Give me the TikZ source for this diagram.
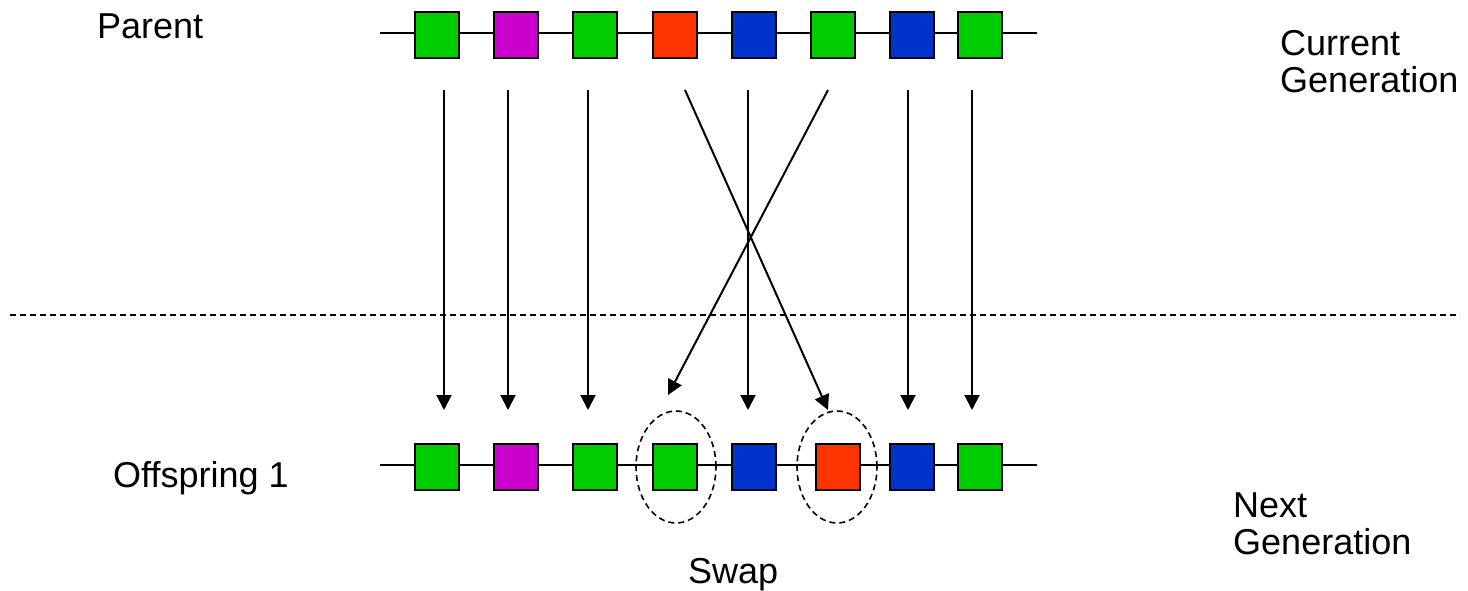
\documentclass[tikz,border=0pt]{standalone}
\usepackage{fontspec}
\setmainfont{Liberation Sans}
\usetikzlibrary{arrows.meta,shapes.geometric}
\definecolor{ggreen}{HTML}{00CC00}
\definecolor{gmag}{HTML}{CC00CC}
\definecolor{gred}{HTML}{FF3300}
\definecolor{gblue}{HTML}{0033CC}
\begin{document}
\begin{tikzpicture}[x=1pt,y=-1pt,
  gene/.style={draw=black, line width=2pt, minimum width=44pt, minimum height=46pt, inner sep=0pt},
  chrom/.style={line width=2pt},
  link/.style={line width=2pt, -{Triangle[length=15pt,width=15pt]}},
  ring/.style={draw=black, ellipse, dash pattern=on 6pt off 4pt, line width=1.6pt, minimum width=80pt, minimum height=112pt, inner sep=0pt},
  sep/.style={dash pattern=on 6pt off 4pt, line width=1.6pt},
  lbl/.style={font=\fontsize{36}{37}\selectfont, inner sep=0pt}]
\useasboundingbox (0,0) rectangle (1468,591);

% chromosome lines
\coordinate (tl) at (380,33); \coordinate (tr) at (1037,33);
\coordinate (bl) at (380,465); \coordinate (br) at (1037,465);
\draw[chrom] (tl) -- (tr);
\draw[chrom] (bl) -- (br);

% parent genes
\node[gene, fill=ggreen] (t1) at (437,35) {};
\node[gene, fill=gmag]   (t2) at (516,35) {};
\node[gene, fill=ggreen] (t3) at (595,35) {};
\node[gene, fill=gred]   (t4) at (675,35) {};
\node[gene, fill=gblue]  (t5) at (754,35) {};
\node[gene, fill=ggreen] (t6) at (833,35) {};
\node[gene, fill=gblue]  (t7) at (912,35) {};
\node[gene, fill=ggreen] (t8) at (980,35) {};

% offspring genes
\node[gene, fill=ggreen] (b1) at (437,467) {};
\node[gene, fill=gmag]   (b2) at (516,467) {};
\node[gene, fill=ggreen] (b3) at (595,467) {};
\node[gene, fill=ggreen] (b4) at (675,467) {};
\node[gene, fill=gblue]  (b5) at (754,467) {};
\node[gene, fill=gred]   (b6) at (838,467) {};
\node[gene, fill=gblue]  (b7) at (912,467) {};
\node[gene, fill=ggreen] (b8) at (980,467) {};

% swap rings
\node[ring] (e1) at (676,467) {};
\node[ring] (e2) at (837,467) {};

% separator
\coordinate (sL) at (10,315); \coordinate (sR) at (1460,315);
\draw[sep] (sL) -- (sR);

% arrow endpoints
\coordinate (s1) at (444,90);  \coordinate (d1) at (444,410);
\coordinate (s2) at (508,90);  \coordinate (d2) at (508,410);
\coordinate (s3) at (588,90);  \coordinate (d3) at (588,410);
\coordinate (s4) at (685,90);  \coordinate (d4) at (828,410);
\coordinate (s5) at (748,90);  \coordinate (d5) at (748,410);
\coordinate (s6) at (828,90);  \coordinate (d6) at (668,395);
\coordinate (s7) at (908,90);  \coordinate (d7) at (908,410);
\coordinate (s8) at (972,90);  \coordinate (d8) at (972,410);
\foreach \i in {1,...,8} {\draw[link] (s\i) -- (d\i);}

% labels
\node[lbl, anchor=base west] (parent) at (97,39) {Parent};
\node[lbl, anchor=base west] (offspring) at (113,487) {Offspring 1};
\node[lbl, anchor=base west] (swap) at (688,583) {Swap};
\node[lbl, anchor=north west, align=left] (cur) at (1280,30) {Current\\Generation};
\node[lbl, anchor=north west, align=left] (next) at (1233,493) {Next\\Generation};
\end{tikzpicture}
\end{document}
